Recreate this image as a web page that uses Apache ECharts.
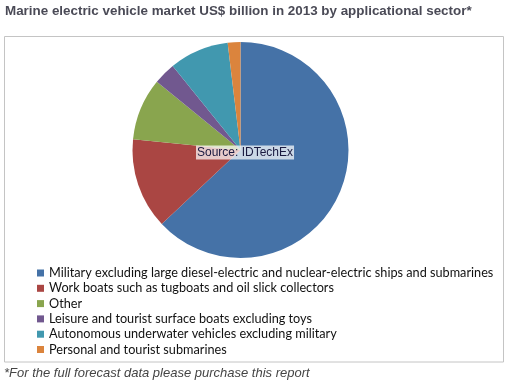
<!DOCTYPE html>
<html>
<head>
<meta charset="utf-8">
<script src="https://cdn.jsdelivr.net/npm/echarts@6/dist/echarts.min.js"></script>
<style>
html,body{margin:0;padding:0;background:#fff;}
#chart{width:511px;height:380px;}
</style>
</head>
<body>
<div id="chart"></div>
<script>
const titleText = 'Marine electric vehicle market US$ billion in 2013 by applicational sector*';
const footnote = '*For the full forecast data please purchase this report';
const sourceText = 'Source: IDTechEx';
const categories = [
  'Military excluding large diesel-electric and nuclear-electric ships and submarines',
  'Work boats such as tugboats and oil slick collectors',
  'Other',
  'Leisure and tourist surface boats excluding toys',
  'Autonomous underwater vehicles excluding military',
  'Personal and tourist submarines'
];
const values = [63.0, 13.6, 9.3, 3.3, 8.9, 1.9];
const colors = ['#4572A7', '#AA4643', '#89A54E', '#71588F', '#4198AF', '#DB843D'];

const chart = echarts.init(document.getElementById('chart'), null, {renderer: 'canvas'});
chart.setOption({
  animation: false,
  color: colors,
  title: {
    text: titleText,
    left: 0,
    top: 0,
    textStyle: {fontFamily: 'Liberation Sans', fontWeight: 'bold', fontSize: 13.4, color: '#4a4a56'}
  },
  legend: {
    orient: 'vertical',
    left: 37,
    top: 265.5,
    padding: 0,
    icon: 'rect',
    itemWidth: 7,
    itemHeight: 7,
    itemGap: 0.3,
    data: categories,
    textStyle: {fontFamily: 'Lato', fontSize: 12.7, color: '#111', lineHeight: 15}
  },
  graphic: [
    {type: 'rect', shape: {x: 4.5, y: 36.5, width: 499, height: 325.5}, style: {fill: 'none', stroke: '#c4c4c4', lineWidth: 1}, z: -1},
    {type: 'text', left: 4, top: 366.5, style: {text: footnote, font: 'italic 13px "Liberation Sans"', fill: '#444'}},
    {type: 'text', left: 196, top: 145.5, z: 10, style: {text: sourceText, font: '12px "Liberation Sans"', fill: '#1a1a40', backgroundColor: 'rgba(255,255,255,0.72)', padding: [1, 1, 1, 1]}}
  ],
  series: [{
    type: 'pie',
    center: [240.5, 150],
    radius: 108,
    startAngle: 90,
    clockwise: true,
    label: {show: false},
    labelLine: {show: false},
    itemStyle: {borderWidth: 0},
    emphasis: {disabled: true},
    data: categories.map((c, i) => ({name: c, value: values[i]}))
  }]
});
</script>
</body>
</html>
